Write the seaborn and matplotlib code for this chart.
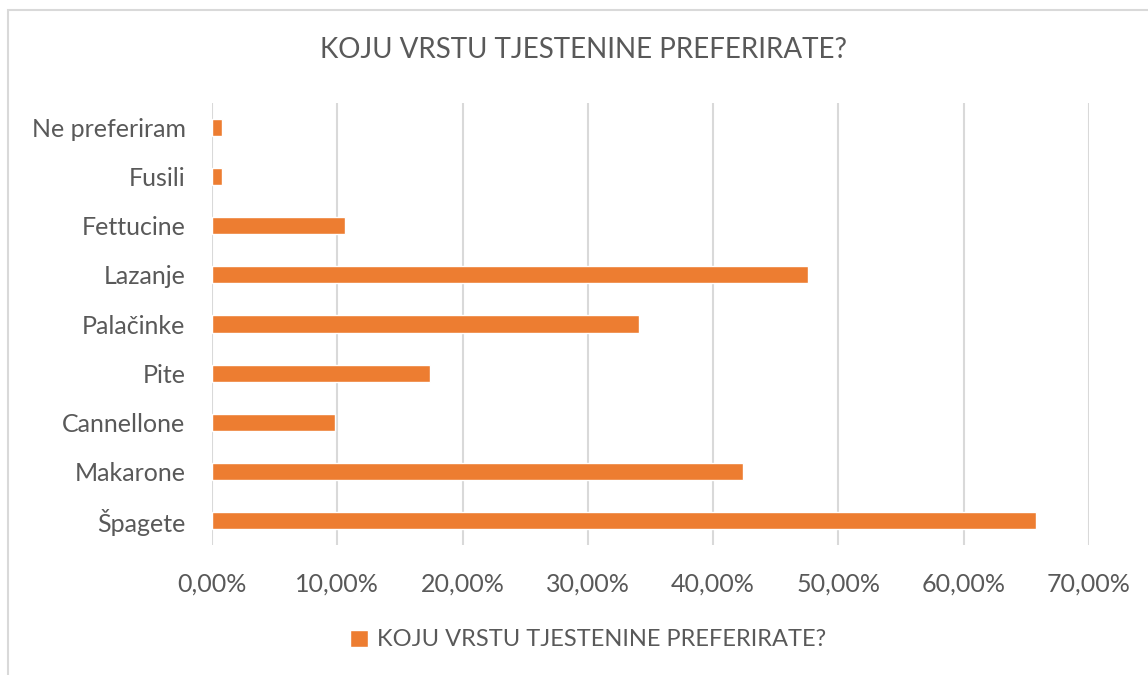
import matplotlib
matplotlib.use("Agg")
import matplotlib.pyplot as plt
import seaborn as sns
import pandas as pd
from matplotlib.ticker import FuncFormatter, MultipleLocator
from matplotlib.patches import Rectangle

categories = ["Ne preferiram", "Fusili", "Fettucine", "Lazanje", "Palačinke",
              "Pite", "Cannellone", "Makarone", "Špagete"]
values = [0.8, 0.8, 10.6, 47.6, 34.1, 17.4, 9.8, 42.4, 65.8]
series_name = "KOJU VRSTU TJESTENINE PREFERIRATE?"
title = "KOJU VRSTU TJESTENINE PREFERIRATE?"

sns.set_style("white")
plt.rcParams['font.family'] = ['Lato', 'DejaVu Sans']

W, H = 1148, 675
fig = plt.figure(figsize=(W / 100, H / 100), dpi=100)
ax = fig.add_axes([212 / W, 1 - 545 / H, (1089 - 212) / W, (545 - 103) / H])

df = pd.DataFrame({"cat": categories, "val": values, "series": series_name})
sns.barplot(data=df, y="cat", x="val", hue="series", order=categories,
            palette=["#ED7D31"], width=0.35, ax=ax, orient="h", saturation=1)

ax.set_xlim(0, 70)
ax.set_ylim(len(categories) - 0.5, -0.5)
ax.xaxis.set_major_locator(MultipleLocator(10))
ax.xaxis.set_major_formatter(FuncFormatter(lambda v, p: f"{v:.2f}%".replace(".", ",")))
ax.grid(axis="x", color="#D9D9D9", linewidth=1.5)
ax.set_axisbelow(True)
for s in ax.spines.values():
    s.set_visible(False)
ax.tick_params(axis="both", length=0, labelsize=18, colors="#595959")
ax.tick_params(axis="x", pad=20)
ax.tick_params(axis="y", pad=19)
ax.set_xlabel("")
ax.set_ylabel("")

fig.text(584 / W, 1 - 50 / H, title, ha="center", va="center",
         fontsize=20, color="#595959")

leg = ax.legend(loc="center", bbox_to_anchor=((588 - 212) / (1089 - 212), -(640 - 545) / (545 - 103)),
                frameon=False, fontsize=17, handlelength=0.75, handleheight=0.75,
                handletextpad=0.4, labelcolor="#595959")

fig.add_artist(Rectangle((8 / W, -0.1), 1.2, 1 - 10 / H + 0.1, transform=fig.transFigure,
                         fill=False, edgecolor="#D9D9D9", linewidth=1.5))

fig.savefig("out.png", dpi=100)
